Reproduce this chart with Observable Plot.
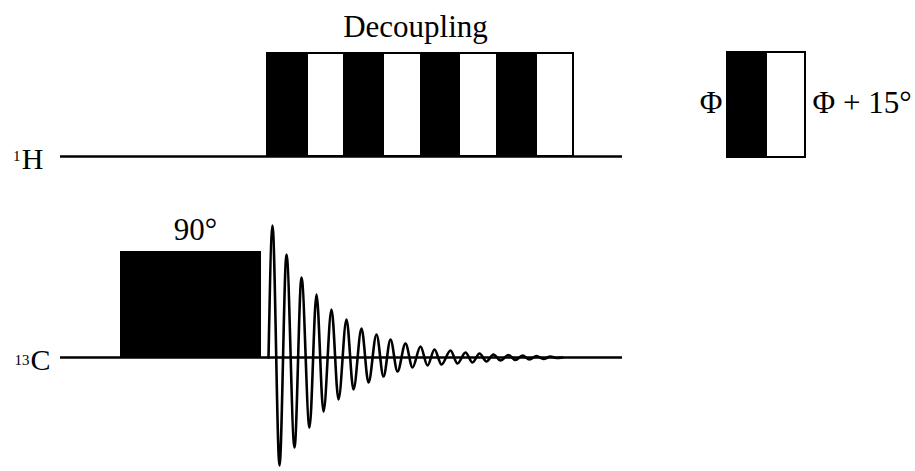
<!DOCTYPE html>
<html>
<head>
<meta charset="utf-8">
<script src="https://cdn.jsdelivr.net/npm/d3@7"></script>
<script src="https://cdn.jsdelivr.net/npm/@observablehq/plot@0.6"></script>
<style>
  html, body { margin: 0; padding: 0; background: #fff; }
  #chart svg { display: block; }
</style>
</head>
<body>
<div id="chart"></div>
<script>
// ---- data (time axis in arbitrary units, amplitude in arbitrary units) ----
// channel baselines (amplitude level)
const channels = ["1H", "13C"];
const channelLevel = [201, 0];
const channelStart = [60, 60];
const channelEnd = [622, 622];

// 1H decoupling block and its alternating-phase segments
const decoupleStart = 267, decoupleEnd = 573, decoupleTop = 304;
const phaseSegStart = [267, 343, 420, 496];
const phaseSegEnd   = [308, 384, 460, 537];

// legend block (phase Φ / Φ + 15°)
const legendStart = 727, legendMid = 767, legendEnd = 805;
const legendBottom = 200, legendTop = 305;

// 13C 90° pulse
const pulseStart = 120, pulseEnd = 261, pulseTop = 106;

// FID extrema (time, amplitude)
const fidT = [268, 272, 279, 286, 294, 301, 309, 316, 323, 331, 338, 346, 353, 361, 368, 376, 383, 390, 397, 405, 412, 420, 427, 434, 441, 450, 457, 465, 472, 479, 486, 493, 500, 508, 515, 522, 529, 536, 543, 550, 556, 562];
const fidA = [0, 132, -108, 103, -90, 80, -70, 63, -54, 48, -42, 38, -32, 29, -25, 23, -19, 18, -14, 14, -10, 11, -8, 8, -7, 7, -6, 5, -5, 4, -4, 3, -3, 2.5, -2.5, 2, -2, 1.5, -1.5, 1, -0.5, 0];

// text labels
const labels = ["Decoupling", "90°", "Φ", "Φ + 15°", "H", "1", "C", "13"];
const labelX = [415, 195, 722, 812, 43, 20, 50, 29];
const labelY = [330, 127, 254, 254, 198.6, 201.5, -2.4, -2.5];
const labelAnchor = ["middle", "middle", "end", "start", "end", "end", "end", "end"];
const labelSize = [31, 31, 31, 31, 30, 15, 30, 15];

// ---- build tables ----
const baseRows = channels.map((c, i) => ({c, y: channelLevel[i], x1: channelStart[i], x2: channelEnd[i]}));
const segRows = phaseSegStart.map((s, i) => ({x1: s, x2: phaseSegEnd[i]}));
const fidRows = fidT.map((t, i) => ({t, a: fidA[i]}));
const labelRows = labels.map((text, i) => ({text, x: labelX[i], y: labelY[i], anchor: labelAnchor[i], size: labelSize[i]}));

const font = "'Liberation Serif', 'Times New Roman', serif";

const plot = Plot.plot({
  width: 915,
  height: 471,
  margin: 0,
  style: {background: "#fff", fontFamily: font},
  x: {domain: [0, 915], range: [0, 915], axis: null},
  y: {domain: [-114, 357], range: [471, 0], axis: null},
  marks: [
    // baselines
    Plot.ruleY(baseRows, {y: "y", x1: "x1", x2: "x2", stroke: "#000", strokeWidth: 2.5}),
    // decoupling block
    Plot.rect([{x1: decoupleStart, x2: decoupleEnd, y1: channelLevel[0], y2: decoupleTop}],
      {x1: "x1", x2: "x2", y1: "y1", y2: "y2", fill: "#fff", stroke: "#000", strokeWidth: 2}),
    Plot.rect(segRows, {x1: "x1", x2: "x2", y1: channelLevel[0], y2: decoupleTop, fill: "#000"}),
    // legend block
    Plot.rect([{x1: legendStart, x2: legendEnd, y1: legendBottom, y2: legendTop}],
      {x1: "x1", x2: "x2", y1: "y1", y2: "y2", fill: "#fff", stroke: "#000", strokeWidth: 2}),
    Plot.rect([{x1: legendStart, x2: legendMid, y1: legendBottom, y2: legendTop}],
      {x1: "x1", x2: "x2", y1: "y1", y2: "y2", fill: "#000"}),
    // 90° pulse
    Plot.rect([{x1: pulseStart, x2: pulseEnd, y1: channelLevel[1], y2: pulseTop}],
      {x1: "x1", x2: "x2", y1: "y1", y2: "y2", fill: "#000"}),
    // FID
    Plot.line(fidRows, {x: "t", y: "a", curve: "monotone-x", stroke: "#000", strokeWidth: 2.6}),
    // labels
    ...labelRows.map(d => Plot.text([d], {
      x: "x", y: "y", text: "text", textAnchor: d.anchor, fontSize: d.size,
      fill: "#000", fontFamily: font, lineAnchor: "middle"
    }))
  ]
});
document.getElementById("chart").appendChild(plot);
</script>
</body>
</html>
